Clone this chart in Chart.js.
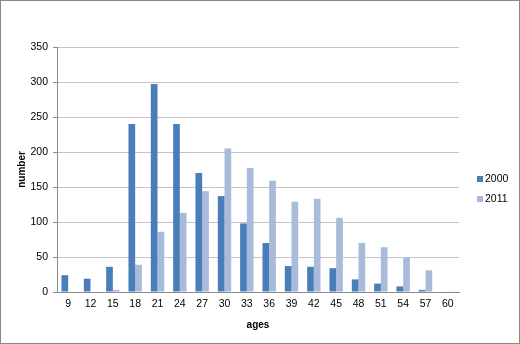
<!DOCTYPE html>
<html lang="en">
  <head>
    <meta charset="UTF-8" />
    <title>Ages</title>
    <script src="https://cdn.jsdelivr.net/npm/chart.js"></script>
    <style>
      body {
        margin: 0;
        padding: 0;
        background: #fff;
      }
      .frame {
        width: 520px;
        height: 344px;
        box-sizing: border-box;
        border: 1px solid #8a8a8a;
      }
      canvas {
        display: block;
      }
    </style>
  </head>
  <body>
    <div class="frame">
      <canvas id="barChart" width="518" height="342"></canvas>
    </div>

    <script>
      const ages = ["9", "12", "15", "18", "21", "24", "27", "30", "33", "36", "39", "42", "45", "48", "51", "54", "57", "60"];
      const values2000 = [24, 19, 36, 240, 297, 240, 170, 137, 98, 70, 37, 36, 34, 18, 12, 8, 3, 0];
      const values2011 = [0, 0, 3, 39, 86, 113, 144, 205, 177, 159, 129, 133, 106, 70, 64, 49, 31, 1];
      const yTicks = [0, 50, 100, 150, 200, 250, 300, 350];

      const titleFont = { family: "'Liberation Sans Narrow', 'Liberation Sans', Arial, sans-serif", size: 10, weight: "bold" };
      const tickFont = { family: "'Liberation Sans', Arial, sans-serif", size: 10.5 };

      // legend drawn to the right of the plot, like the spreadsheet one
      const sideLegend = {
        id: "sideLegend",
        afterDraw(chart) {
          const ctx = chart.ctx;
          ctx.save();
          ctx.font = "10.5px 'Liberation Sans', Arial, sans-serif";
          ctx.textBaseline = "middle";
          chart.data.datasets.forEach((ds, i) => {
            const y = 178 + i * 20;
            ctx.fillStyle = ds.backgroundColor;
            ctx.fillRect(476, y - 3, 6, 6);
            ctx.fillStyle = "#000";
            ctx.fillText(ds.label, 484, y);
          });
          ctx.restore();
        },
      };

      const ctx = document.getElementById("barChart").getContext("2d");
      new Chart(ctx, {
        type: "bar",
        data: {
          labels: ages,
          datasets: [
            {
              label: "2000",
              data: values2000,
              backgroundColor: "#4a7ebb",
              categoryPercentage: 0.6,
              barPercentage: 1.0,
            },
            {
              label: "2011",
              data: values2011,
              backgroundColor: "#a8bbdb",
              categoryPercentage: 0.6,
              barPercentage: 1.0,
            },
          ],
        },
        options: {
          responsive: false,
          animation: false,
          layout: {
            padding: { top: 46, right: 60, bottom: 0, left: 0 },
          },
          plugins: {
            legend: { display: false },
            tooltip: { enabled: false },
          },
          scales: {
            x: {
              grid: { display: false, drawTicks: false },
              border: { color: "#8a8a8a" },
              ticks: { font: tickFont, color: "#000", padding: 6, maxRotation: 0 },
              title: {
                display: true,
                text: "ages",
                font: titleFont,
                color: "#000",
                padding: { top: 0, bottom: 12 },
              },
              afterFit(scale) {
                scale.height = 51;
              },
            },
            y: {
              min: 0,
              max: 350,
              afterBuildTicks(scale) {
                scale.ticks = yTicks.map((v) => ({ value: v }));
              },
              grid: { color: "#c4c4c4", tickLength: 4, tickColor: "#8a8a8a" },
              border: { color: "#8a8a8a" },
              ticks: { font: tickFont, color: "#000", padding: 5 },
              title: {
                display: true,
                text: "number",
                font: titleFont,
                color: "#000",
                padding: { top: 15, bottom: 0 },
              },
              afterFit(scale) {
                scale.width = 56;
              },
            },
          },
        },
        plugins: [sideLegend],
      });
    </script>
  </body>
</html>
